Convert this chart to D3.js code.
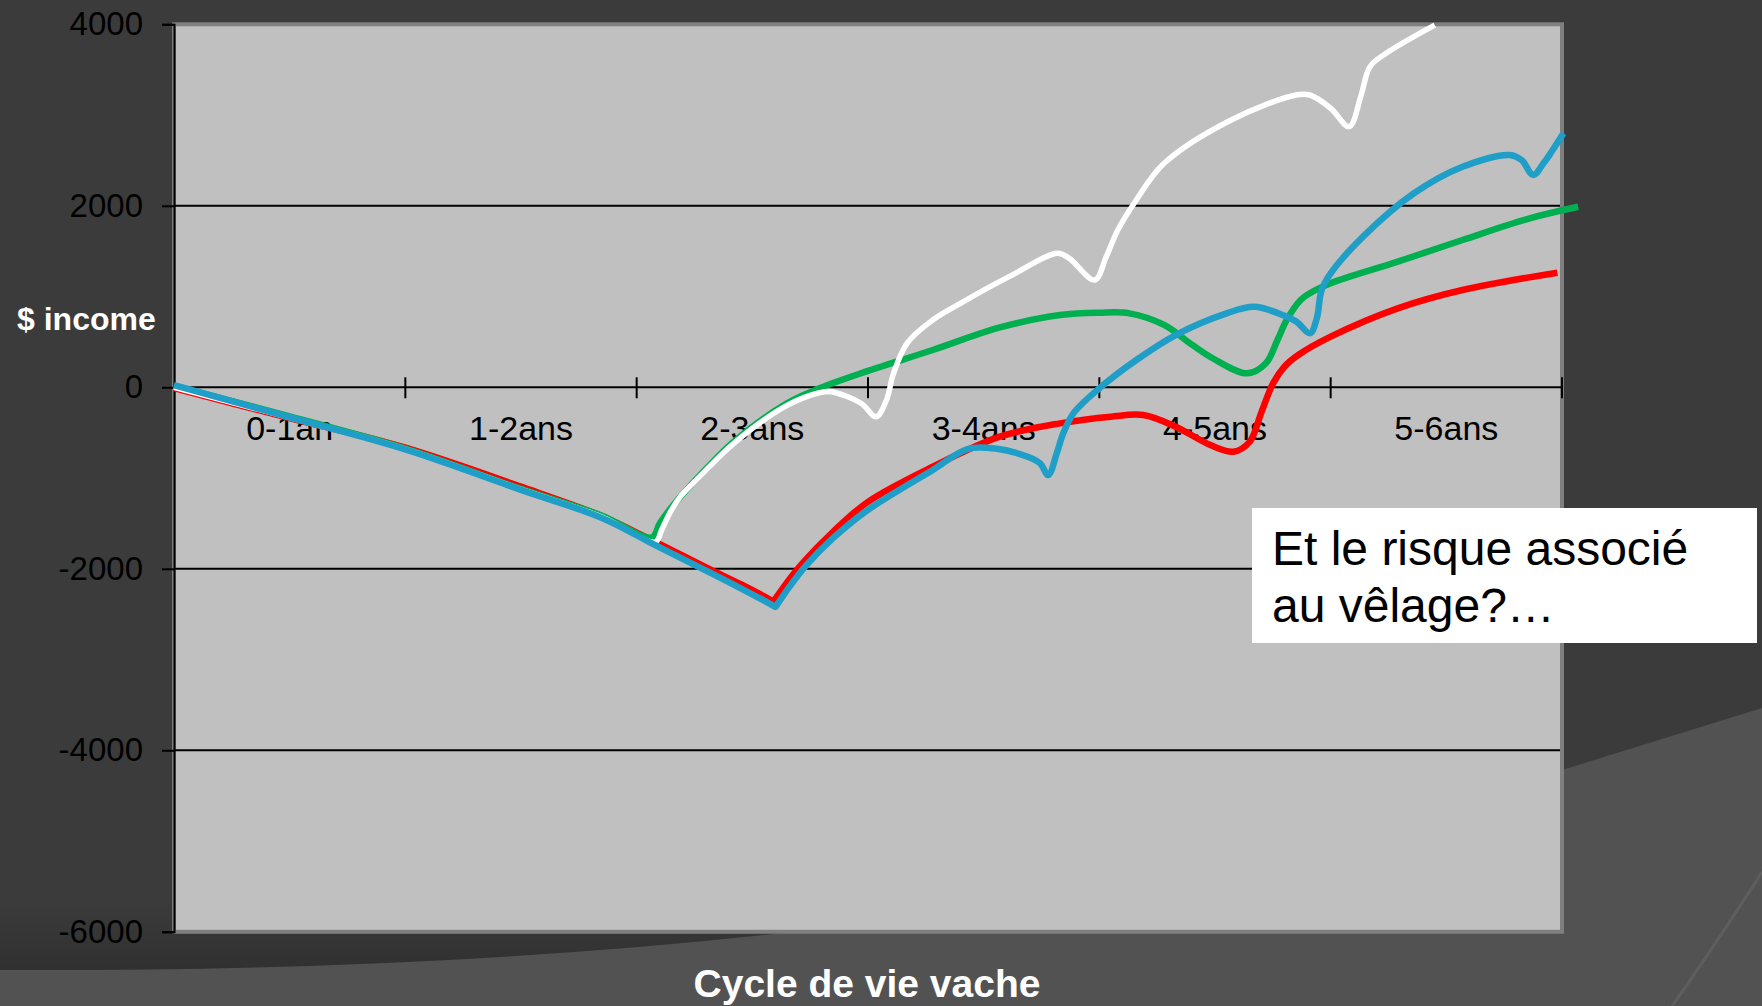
<!DOCTYPE html>
<html>
<head>
<meta charset="utf-8">
<script src="https://cdn.jsdelivr.net/npm/d3@7"></script>
<style>
  html, body { margin: 0; padding: 0; background: #3b3b3b; }
  svg { display: block; }
  text { font-family: "Liberation Sans", Arial, sans-serif; }
</style>
</head>
<body>
<svg id="chart" width="1762" height="1006"></svg>
<script>
// ---------- data ----------
const categories = ["0-1an", "1-2ans", "2-3ans", "3-4ans", "4-5ans", "5-6ans"];
const yTickValues = [-6000, -4000, -2000, 0, 2000, 4000];
const yTitle = "$ income";
const xTitle = "Cycle de vie vache";
const calloutLines = ["Et le risque associé", "au vêlage?…"];

// [years, $ income]
const serieRouge = [
  [0, -10], [0.5, -340], [1.0, -665], [1.5, -1095], [1.85, -1420], [2.07, -1690],
  [2.3, -1985], [2.45, -2170], [2.58, -2345], [2.59, -2362], [2.60, -2330],
  [2.65, -2150], [2.72, -1930], [2.85, -1590], [3.0, -1262], [3.28, -875], [3.57, -544], [3.83, -397],
  [4.05, -324], [4.19, -305], [4.33, -434], [4.48, -636], [4.58, -710], [4.65, -600],
  [4.70, -280], [4.75, 40], [4.80, 227], [4.86, 356], [5.0, 558], [5.29, 870],
  [5.57, 1072], [5.98, 1263]
];
const serieVerte = [
  [0, 15], [0.5, -320], [1.0, -675], [1.5, -1120], [1.85, -1415], [2.065, -1655],
  [2.10, -1499], [2.17, -1262], [2.30, -900], [2.42, -600],
  [2.65, -176], [2.79, -11], [2.99, 172], [3.28, 411], [3.57, 660], [3.83, 797],
  [4.0, 822], [4.13, 815], [4.28, 687], [4.40, 470], [4.49, 320], [4.64, 154],
  [4.72, 264], [4.77, 521], [4.81, 742], [4.87, 962], [4.91, 1036], [5.0, 1146],
  [5.29, 1384], [5.57, 1623], [5.86, 1862], [6.07, 1990]
];
const serieBlanche = [
  [0, 0], [0.5, -335], [1.0, -680], [1.5, -1125], [1.85, -1430], [2.08, -1705],
  [2.108, -1573], [2.144, -1380], [2.19, -1200], [2.27, -990], [2.42, -617],
  [2.65, -200], [2.79, -60], [2.84, -48], [2.97, -176],
  [3.035, -324], [3.08, -140], [3.11, 150], [3.17, 490], [3.28, 742], [3.40, 926],
  [3.61, 1219], [3.82, 1477], [3.87, 1421], [3.98, 1182], [4.03, 1439], [4.08, 1733],
  [4.16, 2064], [4.28, 2468], [4.57, 2946], [4.85, 3221], [4.91, 3221], [5.0, 3075],
  [5.08, 2872], [5.13, 3203], [5.17, 3533], [5.24, 3680], [5.45, 3990]
];
const serieBleue = [
  [0, 25], [0.5, -330], [1.0, -685], [1.5, -1130], [1.85, -1440], [2.07, -1725],
  [2.3, -2020], [2.45, -2215], [2.59, -2405], [2.6, -2420], [2.61, -2385],
  [2.66, -2200], [2.73, -1970], [2.85, -1660], [3.0, -1350], [3.28, -911], [3.43, -680], [3.55, -675],
  [3.69, -765], [3.744, -838], [3.779, -967], [3.816, -727], [3.844, -507],
  [3.888, -287], [4.0, -11], [4.16, 301], [4.33, 576], [4.55, 815], [4.67, 888],
  [4.81, 778], [4.853, 723], [4.911, 595], [4.94, 760], [4.961, 1072], [5.0, 1256],
  [5.14, 1660], [5.36, 2138], [5.57, 2431], [5.775, 2560], [5.825, 2505],
  [5.876, 2340], [5.92, 2468], [6.006, 2800]
];

const series = [
  { name: "rouge", data: serieRouge, color: "#ff0000", width: 6.5 },
  { name: "verte", data: serieVerte, color: "#00b050", width: 6.5 },
  { name: "blanche", data: serieBlanche, color: "#ffffff", width: 5.5 },
  { name: "bleue", data: serieBleue, color: "#1f9fc8", width: 6.5 }
];

// ---------- layout ----------
const W = 1762, H = 1006;
const plot = { left: 174, right: 1562, top: 24.3, bottom: 931.8 };

const svg = d3.select("#chart");

// background decorations
const defs = svg.append("defs");
const shadeGrad = defs.append("linearGradient").attr("id", "shade")
  .attr("x1", 0).attr("y1", 0).attr("x2", 0).attr("y2", 1);
shadeGrad.append("stop").attr("offset", "0").attr("stop-color", "#3b3b3b");
shadeGrad.append("stop").attr("offset", "1").attr("stop-color", "#2f2f2f");

svg.append("rect").attr("width", W).attr("height", H).attr("fill", "#3b3b3b");
svg.append("rect").attr("x", 0).attr("y", 900).attr("width", 900).attr("height", 80)
  .attr("fill", "url(#shade)");
svg.append("path")
  .attr("d", "M0,970 Q450,972 809,930 L1562,770 L1762,708 L1762,1006 L0,1006 Z")
  .attr("fill", "#525252");
svg.append("path")
  .attr("d", "M1762,872 Q1712,950 1672,1006")
  .attr("fill", "none").attr("stroke", "#5e5e5e").attr("stroke-width", 3);

// scales
const x = d3.scaleLinear().domain([0, 6]).range([plot.left, plot.right]);
const xBand = d3.scaleBand().domain(categories).range([plot.left, plot.right]).padding(0);
const y = d3.scaleLinear().domain([-6000, 4000]).range([plot.bottom, plot.top]);

// plot area
svg.append("rect")
  .attr("x", plot.left).attr("y", plot.top)
  .attr("width", plot.right - plot.left).attr("height", plot.bottom - plot.top)
  .attr("fill", "#c0c0c0").attr("stroke", "#7f7f7f").attr("stroke-width", 4);

// gridlines
svg.append("g").selectAll("line")
  .data(yTickValues.filter(v => v !== 0 && v !== 4000 && v !== -6000))
  .join("line")
  .attr("x1", plot.left).attr("x2", plot.right - 2)
  .attr("y1", d => y(d)).attr("y2", d => y(d))
  .attr("stroke", "#000").attr("stroke-width", 2);

// y axis
const yAxis = d3.axisLeft(y).tickValues(yTickValues).tickSize(12).tickPadding(19)
  .tickFormat(d => String(d));
const gy = svg.append("g").attr("transform", `translate(${plot.left},0)`).call(yAxis);
gy.select(".domain").attr("stroke", "#000").attr("stroke-width", 2);
gy.selectAll(".tick line").attr("stroke", "#000").attr("stroke-width", 2);
gy.selectAll(".tick text").attr("fill", "#000")
  .style("font-family", "'Liberation Sans', Arial, sans-serif")
  .style("font-size", "33px");

// x axis at y=0
const gx = svg.append("g");
gx.append("line")
  .attr("x1", plot.left).attr("x2", plot.right)
  .attr("y1", y(0)).attr("y2", y(0))
  .attr("stroke", "#000").attr("stroke-width", 2);
const boundaries = categories.map(c => xBand(c)).concat([plot.right]);
gx.selectAll("line.tk").data(boundaries.slice(1)).join("line").attr("class", "tk")
  .attr("x1", d => d).attr("x2", d => d)
  .attr("y1", y(0) - 10).attr("y2", y(0) + 11)
  .attr("stroke", "#000").attr("stroke-width", 2);
gx.selectAll("text").data(categories).join("text")
  .attr("x", d => xBand(d) + xBand.bandwidth() / 2)
  .attr("y", y(0) + 53)
  .attr("text-anchor", "middle")
  .attr("fill", "#000")
  .style("font-size", "34px")
  .text(d => d);

// lines
const line = d3.line()
  .x(d => x(d[0])).y(d => y(d[1]))
  .curve(d3.curveCatmullRom.alpha(0.5));
svg.append("g").selectAll("path")
  .data(series)
  .join("path")
  .attr("d", d => line(d.data))
  .attr("fill", "none")
  .attr("stroke", d => d.color)
  .attr("stroke-width", d => d.width)
  .attr("stroke-linejoin", "round")
  .attr("stroke-linecap", "butt");

// titles
svg.append("text")
  .attr("x", 17).attr("y", 330)
  .attr("fill", "#fff").attr("font-weight", "bold")
  .style("font-size", "32px")
  .text(yTitle);
svg.append("text")
  .attr("x", 867).attr("y", 997)
  .attr("text-anchor", "middle")
  .attr("fill", "#fff").attr("font-weight", "bold")
  .style("font-size", "39px")
  .text(xTitle);

// callout
const cg = svg.append("g");
cg.append("rect").attr("x", 1252).attr("y", 508).attr("width", 505).attr("height", 135)
  .attr("fill", "#fff");
cg.selectAll("text").data(calloutLines).join("text")
  .attr("x", 1272).attr("y", (d, i) => 565 + i * 57)
  .attr("fill", "#000")
  .style("font-size", "48px")
  .text(d => d);
</script>
</body>
</html>
